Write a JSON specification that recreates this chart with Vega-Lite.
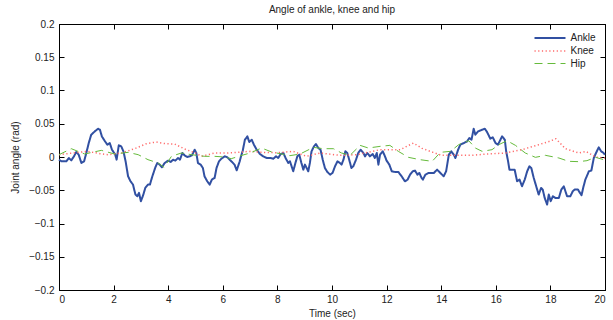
{
  "$schema": "https://vega.github.io/schema/vega-lite/v6.json",
  "width": 546,
  "height": 266,
  "autosize": {"type": "none"},
  "padding": {"left": 59, "top": 24, "right": 8, "bottom": 30},
  "background": "white",
  "title": {"text": "Angle of ankle, knee and hip", "font": "Liberation Sans", "fontSize": 10, "fontWeight": "normal", "color": "#222", "anchor": "middle", "offset": 4},
  "config": {
    "view": {"stroke": "black", "strokeWidth": 1},
    "axis": {"grid": false, "domainColor": "black", "tickColor": "black", "tickSize": -5, "labelFont": "Liberation Sans", "labelFontSize": 10, "labelColor": "#222", "titleFont": "Liberation Sans", "titleFontSize": 10, "titleFontWeight": "normal", "titleColor": "#222"},
    "legend": {"title": null, "orient": "none", "legendX": 485, "legendY": 8, "symbolType": "M-3.1,0H3.1", "symbolSize": 100, "labelFont": "Liberation Sans", "labelFontSize": 10, "labelColor": "#222", "rowPadding": 2, "labelOffset": 14.5}
  },
  "datasets": {
    "angles": [
      {"t":0,"v":-0.004,"s":"Ankle"},{"t":0.09,"v":-0.0065,"s":"Ankle"},{"t":0.27,"v":-0.0065,"s":"Ankle"},{"t":0.36,"v":-0.0015,"s":"Ankle"},{"t":0.45,"v":-0.005,"s":"Ankle"},{"t":0.55,"v":0.001,"s":"Ankle"},{"t":0.63,"v":0.0075,"s":"Ankle"},{"t":0.72,"v":0.0035,"s":"Ankle"},{"t":0.82,"v":-0.009,"s":"Ankle"},{"t":0.92,"v":-0.0065,"s":"Ankle"},{"t":1.0,"v":0.006,"s":"Ankle"},{"t":1.09,"v":0.021,"s":"Ankle"},{"t":1.18,"v":0.0335,"s":"Ankle"},{"t":1.31,"v":0.0385,"s":"Ankle"},{"t":1.43,"v":0.0425,"s":"Ankle"},{"t":1.5,"v":0.041,"s":"Ankle"},{"t":1.57,"v":0.031,"s":"Ankle"},{"t":1.67,"v":0.0245,"s":"Ankle"},{"t":1.77,"v":0.0185,"s":"Ankle"},{"t":1.86,"v":0.021,"s":"Ankle"},{"t":1.94,"v":0.011,"s":"Ankle"},{"t":2.02,"v":0.006,"s":"Ankle"},{"t":2.06,"v":0.0035,"s":"Ankle"},{"t":2.11,"v":-0.004,"s":"Ankle"},{"t":2.19,"v":0.0175,"s":"Ankle"},{"t":2.28,"v":0.016,"s":"Ankle"},{"t":2.36,"v":0.0085,"s":"Ankle"},{"t":2.44,"v":-0.0065,"s":"Ankle"},{"t":2.53,"v":-0.029,"s":"Ankle"},{"t":2.62,"v":-0.0365,"s":"Ankle"},{"t":2.71,"v":-0.0415,"s":"Ankle"},{"t":2.8,"v":-0.0565,"s":"Ankle"},{"t":2.87,"v":-0.059,"s":"Ankle"},{"t":2.93,"v":-0.054,"s":"Ankle"},{"t":3.0,"v":-0.0665,"s":"Ankle"},{"t":3.09,"v":-0.0565,"s":"Ankle"},{"t":3.16,"v":-0.0465,"s":"Ankle"},{"t":3.26,"v":-0.0415,"s":"Ankle"},{"t":3.33,"v":-0.0415,"s":"Ankle"},{"t":3.42,"v":-0.029,"s":"Ankle"},{"t":3.53,"v":-0.0155,"s":"Ankle"},{"t":3.6,"v":-0.009,"s":"Ankle"},{"t":3.69,"v":-0.0115,"s":"Ankle"},{"t":3.77,"v":-0.0155,"s":"Ankle"},{"t":3.87,"v":-0.009,"s":"Ankle"},{"t":4.0,"v":-0.0055,"s":"Ankle"},{"t":4.09,"v":-0.0075,"s":"Ankle"},{"t":4.18,"v":-0.004,"s":"Ankle"},{"t":4.26,"v":-0.0055,"s":"Ankle"},{"t":4.36,"v":-0.0015,"s":"Ankle"},{"t":4.43,"v":-0.004,"s":"Ankle"},{"t":4.52,"v":0.006,"s":"Ankle"},{"t":4.6,"v":0.0025,"s":"Ankle"},{"t":4.7,"v":0,"s":"Ankle"},{"t":4.79,"v":0.001,"s":"Ankle"},{"t":4.87,"v":0.0025,"s":"Ankle"},{"t":4.97,"v":0.011,"s":"Ankle"},{"t":5.03,"v":0.006,"s":"Ankle"},{"t":5.09,"v":-0.009,"s":"Ankle"},{"t":5.19,"v":-0.0115,"s":"Ankle"},{"t":5.27,"v":-0.0165,"s":"Ankle"},{"t":5.33,"v":-0.029,"s":"Ankle"},{"t":5.43,"v":-0.0365,"s":"Ankle"},{"t":5.52,"v":-0.0415,"s":"Ankle"},{"t":5.6,"v":-0.034,"s":"Ankle"},{"t":5.7,"v":-0.0315,"s":"Ankle"},{"t":5.77,"v":-0.0165,"s":"Ankle"},{"t":5.86,"v":-0.0065,"s":"Ankle"},{"t":5.95,"v":-0.0025,"s":"Ankle"},{"t":6.07,"v":0.001,"s":"Ankle"},{"t":6.17,"v":-0.0005,"s":"Ankle"},{"t":6.25,"v":-0.004,"s":"Ankle"},{"t":6.34,"v":-0.0075,"s":"Ankle"},{"t":6.43,"v":-0.0115,"s":"Ankle"},{"t":6.51,"v":-0.02,"s":"Ankle"},{"t":6.62,"v":-0.0065,"s":"Ankle"},{"t":6.66,"v":0.0,"s":"Ankle"},{"t":6.73,"v":0.0095,"s":"Ankle"},{"t":6.81,"v":0.026,"s":"Ankle"},{"t":6.9,"v":0.031,"s":"Ankle"},{"t":6.97,"v":0.0225,"s":"Ankle"},{"t":7.06,"v":0.026,"s":"Ankle"},{"t":7.14,"v":0.0185,"s":"Ankle"},{"t":7.24,"v":0.011,"s":"Ankle"},{"t":7.36,"v":0.0045,"s":"Ankle"},{"t":7.48,"v":0.001,"s":"Ankle"},{"t":7.61,"v":-0.0015,"s":"Ankle"},{"t":7.73,"v":-0.0015,"s":"Ankle"},{"t":7.85,"v":-0.0025,"s":"Ankle"},{"t":7.95,"v":0.001,"s":"Ankle"},{"t":8.03,"v":-0.0015,"s":"Ankle"},{"t":8.12,"v":0.0045,"s":"Ankle"},{"t":8.22,"v":0.006,"s":"Ankle"},{"t":8.31,"v":-0.0025,"s":"Ankle"},{"t":8.4,"v":-0.009,"s":"Ankle"},{"t":8.46,"v":-0.0065,"s":"Ankle"},{"t":8.52,"v":-0.014,"s":"Ankle"},{"t":8.58,"v":-0.0215,"s":"Ankle"},{"t":8.66,"v":-0.009,"s":"Ankle"},{"t":8.73,"v":0.001,"s":"Ankle"},{"t":8.8,"v":0.0035,"s":"Ankle"},{"t":8.88,"v":-0.009,"s":"Ankle"},{"t":8.95,"v":-0.019,"s":"Ankle"},{"t":9.01,"v":-0.0115,"s":"Ankle"},{"t":9.07,"v":-0.0165,"s":"Ankle"},{"t":9.13,"v":-0.0215,"s":"Ankle"},{"t":9.19,"v":-0.009,"s":"Ankle"},{"t":9.25,"v":0.0085,"s":"Ankle"},{"t":9.34,"v":0.016,"s":"Ankle"},{"t":9.41,"v":0.0195,"s":"Ankle"},{"t":9.5,"v":0.0135,"s":"Ankle"},{"t":9.58,"v":0.011,"s":"Ankle"},{"t":9.66,"v":-0.004,"s":"Ankle"},{"t":9.74,"v":-0.0165,"s":"Ankle"},{"t":9.83,"v":-0.0225,"s":"Ankle"},{"t":9.93,"v":-0.0265,"s":"Ankle"},{"t":10.02,"v":-0.024,"s":"Ankle"},{"t":10.11,"v":-0.014,"s":"Ankle"},{"t":10.2,"v":-0.0065,"s":"Ankle"},{"t":10.29,"v":-0.009,"s":"Ankle"},{"t":10.35,"v":-0.0115,"s":"Ankle"},{"t":10.42,"v":-0.004,"s":"Ankle"},{"t":10.49,"v":0.0085,"s":"Ankle"},{"t":10.56,"v":0.006,"s":"Ankle"},{"t":10.63,"v":-0.004,"s":"Ankle"},{"t":10.71,"v":-0.0165,"s":"Ankle"},{"t":10.78,"v":-0.014,"s":"Ankle"},{"t":10.88,"v":-0.004,"s":"Ankle"},{"t":10.96,"v":0.006,"s":"Ankle"},{"t":11.05,"v":0.011,"s":"Ankle"},{"t":11.15,"v":0.006,"s":"Ankle"},{"t":11.21,"v":0.001,"s":"Ankle"},{"t":11.29,"v":0.006,"s":"Ankle"},{"t":11.39,"v":0.001,"s":"Ankle"},{"t":11.49,"v":0.0045,"s":"Ankle"},{"t":11.57,"v":-0.0015,"s":"Ankle"},{"t":11.64,"v":0.006,"s":"Ankle"},{"t":11.7,"v":-0.0115,"s":"Ankle"},{"t":11.76,"v":0.0035,"s":"Ankle"},{"t":11.86,"v":0.0085,"s":"Ankle"},{"t":11.94,"v":0.001,"s":"Ankle"},{"t":12.0,"v":-0.0055,"s":"Ankle"},{"t":12.1,"v":-0.0115,"s":"Ankle"},{"t":12.19,"v":-0.0215,"s":"Ankle"},{"t":12.31,"v":-0.0225,"s":"Ankle"},{"t":12.43,"v":-0.0225,"s":"Ankle"},{"t":12.55,"v":-0.029,"s":"Ankle"},{"t":12.67,"v":-0.0365,"s":"Ankle"},{"t":12.77,"v":-0.034,"s":"Ankle"},{"t":12.86,"v":-0.0265,"s":"Ankle"},{"t":12.96,"v":-0.0215,"s":"Ankle"},{"t":13.04,"v":-0.0205,"s":"Ankle"},{"t":13.13,"v":-0.0265,"s":"Ankle"},{"t":13.2,"v":-0.024,"s":"Ankle"},{"t":13.28,"v":-0.0315,"s":"Ankle"},{"t":13.33,"v":-0.034,"s":"Ankle"},{"t":13.42,"v":-0.0265,"s":"Ankle"},{"t":13.54,"v":-0.024,"s":"Ankle"},{"t":13.73,"v":-0.024,"s":"Ankle"},{"t":13.85,"v":-0.019,"s":"Ankle"},{"t":13.97,"v":-0.024,"s":"Ankle"},{"t":14.09,"v":-0.029,"s":"Ankle"},{"t":14.18,"v":-0.0215,"s":"Ankle"},{"t":14.28,"v":0.0035,"s":"Ankle"},{"t":14.37,"v":0.0085,"s":"Ankle"},{"t":14.46,"v":0.0035,"s":"Ankle"},{"t":14.52,"v":-0.0015,"s":"Ankle"},{"t":14.62,"v":0.011,"s":"Ankle"},{"t":14.7,"v":0.0185,"s":"Ankle"},{"t":14.83,"v":0.021,"s":"Ankle"},{"t":14.95,"v":0.0235,"s":"Ankle"},{"t":15.03,"v":0.0285,"s":"Ankle"},{"t":15.11,"v":0.026,"s":"Ankle"},{"t":15.19,"v":0.0425,"s":"Ankle"},{"t":15.25,"v":0.0335,"s":"Ankle"},{"t":15.35,"v":0.0385,"s":"Ankle"},{"t":15.5,"v":0.041,"s":"Ankle"},{"t":15.6,"v":0.0425,"s":"Ankle"},{"t":15.68,"v":0.0375,"s":"Ankle"},{"t":15.8,"v":0.0275,"s":"Ankle"},{"t":15.89,"v":0.0295,"s":"Ankle"},{"t":15.99,"v":0.021,"s":"Ankle"},{"t":16.08,"v":0.0185,"s":"Ankle"},{"t":16.17,"v":0.026,"s":"Ankle"},{"t":16.23,"v":0.031,"s":"Ankle"},{"t":16.33,"v":0.026,"s":"Ankle"},{"t":16.38,"v":0.0085,"s":"Ankle"},{"t":16.45,"v":-0.0065,"s":"Ankle"},{"t":16.5,"v":-0.019,"s":"Ankle"},{"t":16.6,"v":-0.019,"s":"Ankle"},{"t":16.69,"v":-0.019,"s":"Ankle"},{"t":16.78,"v":-0.0365,"s":"Ankle"},{"t":16.87,"v":-0.034,"s":"Ankle"},{"t":16.96,"v":-0.044,"s":"Ankle"},{"t":17.06,"v":-0.034,"s":"Ankle"},{"t":17.15,"v":-0.0215,"s":"Ankle"},{"t":17.23,"v":-0.014,"s":"Ankle"},{"t":17.3,"v":-0.0165,"s":"Ankle"},{"t":17.39,"v":-0.0315,"s":"Ankle"},{"t":17.48,"v":-0.044,"s":"Ankle"},{"t":17.57,"v":-0.0565,"s":"Ankle"},{"t":17.66,"v":-0.0465,"s":"Ankle"},{"t":17.72,"v":-0.049,"s":"Ankle"},{"t":17.79,"v":-0.0615,"s":"Ankle"},{"t":17.88,"v":-0.0715,"s":"Ankle"},{"t":17.94,"v":-0.0565,"s":"Ankle"},{"t":18.01,"v":-0.0665,"s":"Ankle"},{"t":18.09,"v":-0.059,"s":"Ankle"},{"t":18.18,"v":-0.0615,"s":"Ankle"},{"t":18.31,"v":-0.0615,"s":"Ankle"},{"t":18.4,"v":-0.049,"s":"Ankle"},{"t":18.49,"v":-0.044,"s":"Ankle"},{"t":18.55,"v":-0.0515,"s":"Ankle"},{"t":18.61,"v":-0.059,"s":"Ankle"},{"t":18.73,"v":-0.059,"s":"Ankle"},{"t":18.82,"v":-0.0515,"s":"Ankle"},{"t":18.89,"v":-0.049,"s":"Ankle"},{"t":19.01,"v":-0.049,"s":"Ankle"},{"t":19.06,"v":-0.0525,"s":"Ankle"},{"t":19.14,"v":-0.0575,"s":"Ankle"},{"t":19.2,"v":-0.0465,"s":"Ankle"},{"t":19.28,"v":-0.034,"s":"Ankle"},{"t":19.41,"v":-0.0215,"s":"Ankle"},{"t":19.5,"v":-0.0205,"s":"Ankle"},{"t":19.59,"v":-0.0015,"s":"Ankle"},{"t":19.67,"v":0.006,"s":"Ankle"},{"t":19.77,"v":0.0145,"s":"Ankle"},{"t":19.86,"v":0.0085,"s":"Ankle"},{"t":19.95,"v":0.006,"s":"Ankle"},{"t":20.0,"v":0.0035,"s":"Ankle"},
      {"t":0,"v":0.0035,"s":"Knee"},{"t":0.5,"v":0.006,"s":"Knee"},{"t":1.06,"v":0.0085,"s":"Knee"},{"t":1.5,"v":0.005,"s":"Knee"},{"t":1.8,"v":0.0035,"s":"Knee"},{"t":2.3,"v":0.006,"s":"Knee"},{"t":2.8,"v":0.013,"s":"Knee"},{"t":3.2,"v":0.02,"s":"Knee"},{"t":3.56,"v":0.0225,"s":"Knee"},{"t":3.9,"v":0.02,"s":"Knee"},{"t":4.24,"v":0.0195,"s":"Knee"},{"t":4.6,"v":0.012,"s":"Knee"},{"t":5.0,"v":0.006,"s":"Knee"},{"t":5.22,"v":0.001,"s":"Knee"},{"t":5.7,"v":0.006,"s":"Knee"},{"t":6.2,"v":0.006,"s":"Knee"},{"t":6.7,"v":0.0075,"s":"Knee"},{"t":7.0,"v":0.0085,"s":"Knee"},{"t":7.4,"v":0.007,"s":"Knee"},{"t":8.0,"v":0.0065,"s":"Knee"},{"t":8.58,"v":0.0085,"s":"Knee"},{"t":9.07,"v":0.001,"s":"Knee"},{"t":9.56,"v":0.006,"s":"Knee"},{"t":10.29,"v":0.0025,"s":"Knee"},{"t":10.9,"v":0.0035,"s":"Knee"},{"t":11.76,"v":0.011,"s":"Knee"},{"t":12.5,"v":0.011,"s":"Knee"},{"t":12.98,"v":0.021,"s":"Knee"},{"t":13.3,"v":0.013,"s":"Knee"},{"t":13.7,"v":0.007,"s":"Knee"},{"t":14.0,"v":0.0025,"s":"Knee"},{"t":14.5,"v":0.0025,"s":"Knee"},{"t":15.1,"v":0.0025,"s":"Knee"},{"t":15.7,"v":0.0045,"s":"Knee"},{"t":16.35,"v":0.006,"s":"Knee"},{"t":16.96,"v":0.011,"s":"Knee"},{"t":17.57,"v":0.0185,"s":"Knee"},{"t":18.0,"v":0.024,"s":"Knee"},{"t":18.2,"v":0.0275,"s":"Knee"},{"t":18.55,"v":0.0125,"s":"Knee"},{"t":19.04,"v":0.006,"s":"Knee"},{"t":19.3,"v":0.0085,"s":"Knee"},{"t":19.65,"v":0.0,"s":"Knee"},{"t":20.0,"v":-0.0015,"s":"Knee"},
      {"t":0,"v":0.0035,"s":"Hip"},{"t":0.45,"v":0.0125,"s":"Hip"},{"t":0.94,"v":0.0045,"s":"Hip"},{"t":1.55,"v":0.01,"s":"Hip"},{"t":2.04,"v":0.0045,"s":"Hip"},{"t":2.53,"v":0.007,"s":"Hip"},{"t":2.9,"v":0.0035,"s":"Hip"},{"t":3.26,"v":-0.004,"s":"Hip"},{"t":3.63,"v":-0.009,"s":"Hip"},{"t":3.85,"v":-0.0155,"s":"Hip"},{"t":4.12,"v":0.001,"s":"Hip"},{"t":4.48,"v":0.006,"s":"Hip"},{"t":4.85,"v":0.0035,"s":"Hip"},{"t":5.34,"v":0.001,"s":"Hip"},{"t":5.7,"v":0.001,"s":"Hip"},{"t":6.07,"v":0.0,"s":"Hip"},{"t":6.31,"v":-0.0025,"s":"Hip"},{"t":6.7,"v":0.0025,"s":"Hip"},{"t":7.0,"v":0.006,"s":"Hip"},{"t":7.42,"v":0.0135,"s":"Hip"},{"t":7.79,"v":0.0075,"s":"Hip"},{"t":8.1,"v":0.005,"s":"Hip"},{"t":8.46,"v":0.002,"s":"Hip"},{"t":8.83,"v":0.0045,"s":"Hip"},{"t":9.32,"v":0.0145,"s":"Hip"},{"t":9.68,"v":0.0125,"s":"Hip"},{"t":10.05,"v":0.0125,"s":"Hip"},{"t":10.35,"v":0.006,"s":"Hip"},{"t":10.66,"v":0.0025,"s":"Hip"},{"t":11.03,"v":0.0175,"s":"Hip"},{"t":11.33,"v":0.0135,"s":"Hip"},{"t":11.76,"v":0.016,"s":"Hip"},{"t":12.12,"v":0.0175,"s":"Hip"},{"t":12.43,"v":0.0085,"s":"Hip"},{"t":12.8,"v":-0.0005,"s":"Hip"},{"t":13.22,"v":-0.004,"s":"Hip"},{"t":13.67,"v":-0.0065,"s":"Hip"},{"t":13.97,"v":0.007,"s":"Hip"},{"t":14.34,"v":0.0085,"s":"Hip"},{"t":14.64,"v":0.0185,"s":"Hip"},{"t":15.01,"v":0.0245,"s":"Hip"},{"t":15.25,"v":0.0135,"s":"Hip"},{"t":15.5,"v":0.0085,"s":"Hip"},{"t":15.86,"v":0.011,"s":"Hip"},{"t":16.11,"v":0.0185,"s":"Hip"},{"t":16.41,"v":0.0245,"s":"Hip"},{"t":16.72,"v":0.0175,"s":"Hip"},{"t":17.08,"v":0.006,"s":"Hip"},{"t":17.45,"v":-0.0005,"s":"Hip"},{"t":17.82,"v":0.0025,"s":"Hip"},{"t":18.31,"v":-0.0015,"s":"Hip"},{"t":18.67,"v":-0.0065,"s":"Hip"},{"t":19.04,"v":-0.007,"s":"Hip"},{"t":19.34,"v":-0.0055,"s":"Hip"},{"t":19.65,"v":-0.0005,"s":"Hip"},{"t":19.95,"v":-0.004,"s":"Hip"},{"t":20.0,"v":-0.004,"s":"Hip"}
    ]
  },
  "data": {"name": "angles"},
  "layer": [
    {
      "mark": {"type": "line", "strokeJoin": "round"},
      "encoding": {
        "x": {"field": "t", "type": "quantitative", "scale": {"domain": [0, 20], "nice": false, "zero": false}, "axis": {"orient": "bottom", "values": [0,2,4,6,8,10,12,14,16,18,20], "title": "Time (sec)", "labelPadding": 9, "titlePadding": 4}},
        "y": {"field": "v", "type": "quantitative", "scale": {"domain": [-0.2, 0.2], "nice": false, "zero": false}, "axis": {"orient": "left", "values": [-0.2,-0.15,-0.1,-0.05,0,0.05,0.1,0.15,0.2], "format": ".2~f", "title": "Joint angle (rad)", "labelPadding": 10, "titlePadding": 8}},
        "color": {"field": "s", "type": "nominal", "scale": {"domain": ["Ankle", "Knee", "Hip"], "range": ["#3150a2", "#ff6a6a", "#66bb3c"]}, "legend": {"title": null}},
        "strokeDash": {"field": "s", "type": "nominal", "scale": {"domain": ["Ankle", "Knee", "Hip"], "range": [[1, 0], [1.2, 2.5], [8, 5]]}, "legend": {"title": null}},
        "strokeWidth": {"field": "s", "type": "nominal", "scale": {"domain": ["Ankle", "Knee", "Hip"], "range": [2, 1, 2.4]}, "legend": {"title": null}}
      }
    },
    {
      "mark": {"type": "line", "opacity": 0},
      "encoding": {
        "x": {"field": "t", "type": "quantitative", "axis": {"orient": "top", "values": [0,2,4,6,8,10,12,14,16,18,20], "labels": false, "title": null}},
        "y": {"field": "v", "type": "quantitative", "axis": {"orient": "right", "values": [-0.2,-0.15,-0.1,-0.05,0,0.05,0.1,0.15,0.2], "labels": false, "title": null}}
      }
    }
  ],
  "resolve": {"axis": {"x": "independent", "y": "independent"}}
}
